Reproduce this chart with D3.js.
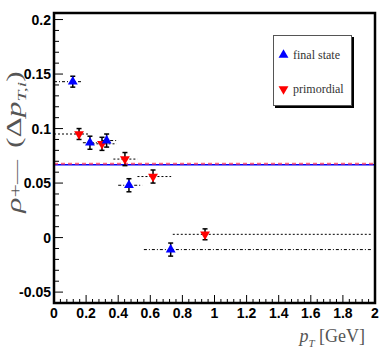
<!DOCTYPE html>
<html>
<head>
<meta charset="utf-8">
<script src="https://cdn.jsdelivr.net/npm/d3@7"></script>
<style>
  body { margin: 0; background: #fff; }
  svg { display: block; }
</style>
</head>
<body>
<svg id="chart" width="392" height="354"></svg>
<script>
// final state (blue, up triangles)
let finalX   = [ 0.117, 0.224, 0.328, 0.467, 0.727 ]
let finalY   = [ 0.143, 0.087, 0.089, 0.048, -0.011 ]
let finalErr = [ 0.005, 0.006, 0.006, 0.006, 0.006 ]
let finalLo  = [ 0.0,   0.18,  0.30,  0.40,  0.56 ]
let finalHi  = [ 0.18,  0.30,  0.40,  0.55,  1.98 ]

// primordial (red, down triangles)
let primX   = [ 0.156, 0.299, 0.442, 0.617, 0.941 ]
let primY   = [ 0.095, 0.086, 0.072, 0.056, 0.003 ]
let primErr = [ 0.005, 0.006, 0.006, 0.006, 0.005 ]
let primLo  = [ 0.0,   0.24,  0.37,  0.52,  0.74 ]
let primHi  = [ 0.22,  0.39,  0.52,  0.73,  1.98 ]

let finalMean = 0.0668
let primMean  = 0.0677

let xTicks = [ 0, 0.2, 0.4, 0.6, 0.8, 1, 1.2, 1.4, 1.6, 1.8, 2 ]
let yTicks = [ -0.05, 0, 0.05, 0.1, 0.15, 0.2 ]

let svg = d3.select( 'svg#chart' )
let x = d3.scaleLinear().domain( [ 0, 2 ] ).range( [ 54, 375 ] )
let y = d3.scaleLinear().domain( [ -0.06, 0.206 ] ).range( [ 303, 13 ] )

let tickFont = '"Liberation Sans Narrow", "Liberation Sans", Arial, sans-serif'
let serif = '"Liberation Serif", "Times New Roman", serif'

// minor + major ticks (inward)
let g = svg.append( 'g' ).attr( 'stroke', '#000' ).attr( 'stroke-width', 1 )
d3.range( 0, 2.001, 0.04 ).forEach( ( v, i ) => {
    let len = ( i % 5 == 0 ) ? 8 : 4
    g.append( 'line' )
        .attr( 'x1', x( v ) ).attr( 'x2', x( v ) )
        .attr( 'y1', y.range()[ 0 ] ).attr( 'y2', y.range()[ 0 ] - len )
} )
d3.range( -0.06, 0.2061, 0.01 ).forEach( v => {
    let major = Math.abs( Math.round( v * 100 ) % 5 ) == 0
    let len = major ? 9 : 5
    g.append( 'line' )
        .attr( 'x1', x.range()[ 0 ] ).attr( 'x2', x.range()[ 0 ] + len )
        .attr( 'y1', y( v ) ).attr( 'y2', y( v ) )
} )

// tick labels
svg.append( 'g' ).selectAll( 'text' ).data( xTicks ).enter().append( 'text' )
    .attr( 'x', d => x( d ) ).attr( 'y', 318 )
    .attr( 'text-anchor', 'middle' )
    .attr( 'font-family', tickFont ).attr( 'font-size', 14 ).attr( 'font-weight', 'bold' )
    .text( d => d )
svg.append( 'g' ).selectAll( 'text' ).data( yTicks ).enter().append( 'text' )
    .attr( 'x', 51 ).attr( 'y', d => y( d ) + 5 )
    .attr( 'text-anchor', 'end' )
    .attr( 'font-family', tickFont ).attr( 'font-size', 14 ).attr( 'font-weight', 'bold' )
    .text( d => d )

// bin lines
let bins = svg.append( 'g' ).attr( 'stroke', '#000' ).attr( 'stroke-width', 1 )
finalX.forEach( ( d, i ) => {
    bins.append( 'line' )
        .attr( 'x1', x( finalLo[ i ] ) ).attr( 'x2', x( finalHi[ i ] ) )
        .attr( 'y1', y( finalY[ i ] ) ).attr( 'y2', y( finalY[ i ] ) )
        .attr( 'stroke-dasharray', '3,2,1,2' )
} )
primX.forEach( ( d, i ) => {
    bins.append( 'line' )
        .attr( 'x1', x( primLo[ i ] ) ).attr( 'x2', x( primHi[ i ] ) )
        .attr( 'y1', y( primY[ i ] ) ).attr( 'y2', y( primY[ i ] ) )
        .attr( 'stroke-dasharray', '2,2' )
} )

// mean lines
svg.append( 'line' )
    .attr( 'x1', x( 0 ) ).attr( 'x2', x( 2 ) )
    .attr( 'y1', y( finalMean ) ).attr( 'y2', y( finalMean ) )
    .attr( 'stroke', '#0000ff' ).attr( 'stroke-width', 1.5 )
svg.append( 'line' )
    .attr( 'x1', x( 0 ) ).attr( 'x2', x( 2 ) )
    .attr( 'y1', y( primMean ) ).attr( 'y2', y( primMean ) )
    .attr( 'stroke', '#ff3355' ).attr( 'stroke-width', 2 ).attr( 'stroke-opacity', 0.75 )
    .attr( 'stroke-dasharray', '4,3' )

// error bars + markers
let drawSeries = ( xs, ys, errs, color, rot ) => {
    let eg = svg.append( 'g' ).attr( 'stroke', '#000' ).attr( 'stroke-width', 1.5 )
    xs.forEach( ( d, i ) => {
        let cx = x( d ), top = y( ys[ i ] + errs[ i ] ), bot = y( ys[ i ] - errs[ i ] )
        eg.append( 'line' ).attr( 'x1', cx ).attr( 'x2', cx ).attr( 'y1', top ).attr( 'y2', bot )
        eg.append( 'line' ).attr( 'x1', cx - 2.5 ).attr( 'x2', cx + 2.5 ).attr( 'y1', top ).attr( 'y2', top )
        eg.append( 'line' ).attr( 'x1', cx - 2.5 ).attr( 'x2', cx + 2.5 ).attr( 'y1', bot ).attr( 'y2', bot )
    } )
    svg.append( 'g' ).selectAll( 'path' ).data( xs ).enter().append( 'path' )
        .attr( 'd', d3.symbol( d3.symbolTriangle ).size( 42 ) )
        .attr( 'transform', ( d, i ) => 'translate(' + x( d ) + ',' + y( ys[ i ] ) + ') rotate(' + rot + ')' )
        .attr( 'fill', color )
}
drawSeries( primX, primY, primErr, '#ff0000', 180 )
drawSeries( finalX, finalY, finalErr, '#0000ff', 0 )

// frame
svg.append( 'rect' )
    .attr( 'x', x( 0 ) ).attr( 'y', y.range()[ 1 ] )
    .attr( 'width', x( 2 ) - x( 0 ) ).attr( 'height', y.range()[ 0 ] - y.range()[ 1 ] )
    .attr( 'fill', 'none' ).attr( 'stroke', '#000' ).attr( 'stroke-width', 2.5 )

// legend
svg.append( 'rect' ).attr( 'x', 275 ).attr( 'y', 37 ).attr( 'width', 79 ).attr( 'height', 71 ).attr( 'fill', '#000' )
svg.append( 'rect' ).attr( 'x', 273.5 ).attr( 'y', 35.5 ).attr( 'width', 78 ).attr( 'height', 70 )
    .attr( 'fill', '#fff' ).attr( 'stroke', '#555' ).attr( 'stroke-width', 1 )
let legend = [ { label: 'final state', color: '#0000ff', rot: 0, y: 55 },
               { label: 'primordial', color: '#ff0000', rot: 180, y: 89 } ]
legend.forEach( l => {
    svg.append( 'path' )
        .attr( 'd', d3.symbol( d3.symbolTriangle ).size( 42 ) )
        .attr( 'transform', 'translate(283.5,' + l.y + ') rotate(' + l.rot + ')' )
        .attr( 'fill', l.color )
    svg.append( 'text' )
        .attr( 'x', 293 ).attr( 'y', l.y + 4 )
        .attr( 'font-family', serif ).attr( 'font-size', 12 )
        .attr( 'fill', '#333' )
        .text( l.label )
} )

// axis titles
let xt = svg.append( 'text' )
    .attr( 'x', 365 ).attr( 'y', 342 ).attr( 'text-anchor', 'end' )
    .attr( 'font-family', serif ).attr( 'font-size', 18 )
    .attr( 'fill', '#555' )
xt.append( 'tspan' ).attr( 'font-style', 'italic' ).text( 'p' )
xt.append( 'tspan' ).attr( 'font-style', 'italic' ).attr( 'font-size', 11 ).attr( 'dy', 5 ).text( 'T' )
xt.append( 'tspan' ).attr( 'dy', -5 ).text( '  [GeV]' )

let yt = svg.append( 'text' )
    .attr( 'transform', 'translate(21,142) rotate(-90) scale(1.5,1)' )
    .attr( 'text-anchor', 'middle' )
    .attr( 'font-family', serif ).attr( 'font-size', 21 )
    .attr( 'fill', '#555' )
yt.append( 'tspan' ).attr( 'font-style', 'italic' ).text( 'ρ' )
yt.append( 'tspan' ).attr( 'font-size', 16 ).text( '+—' )
yt.append( 'tspan' ).attr( 'dx', 8 ).text( '(Δ' )
yt.append( 'tspan' ).attr( 'font-style', 'italic' ).text( 'p' )
yt.append( 'tspan' ).attr( 'font-style', 'italic' ).attr( 'font-size', 13 ).attr( 'dy', 5 ).text( 'T,i' )
yt.append( 'tspan' ).attr( 'dy', -5 ).text( ')' )
</script>
</body>
</html>
